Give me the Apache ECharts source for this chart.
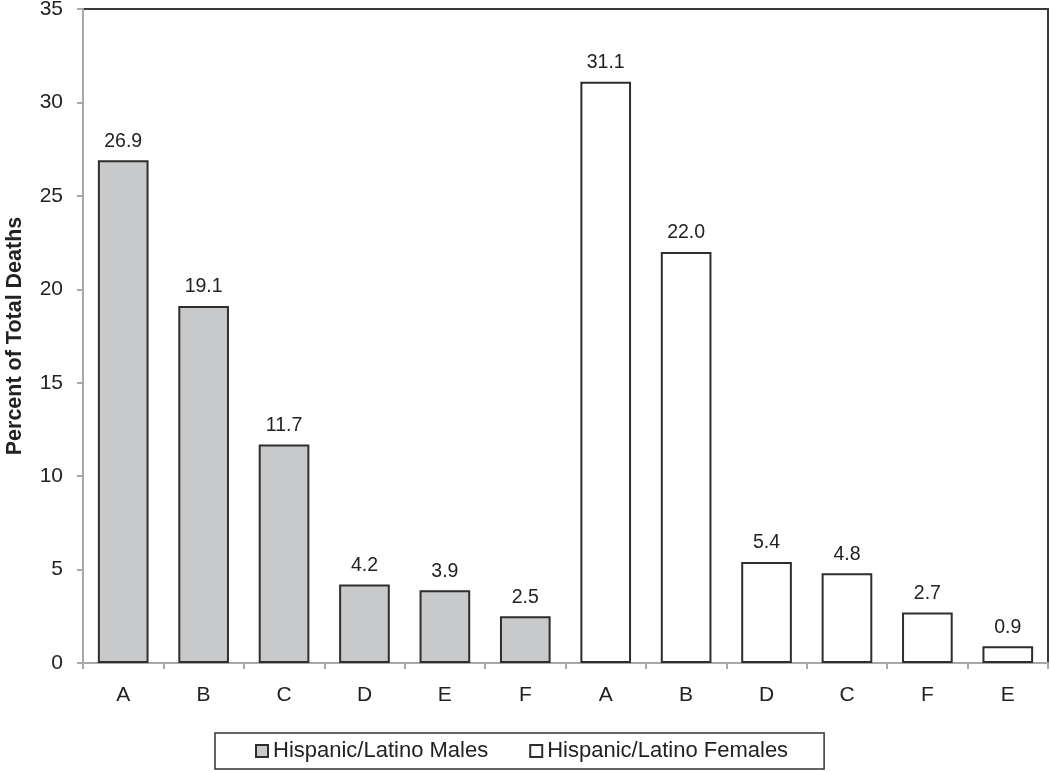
<!DOCTYPE html>
<html>
<head>
<meta charset="utf-8">
<script src="https://cdn.jsdelivr.net/npm/echarts@6/dist/echarts.min.js"></script>
<style>html,body{margin:0;padding:0;background:#fff}#c{width:1050px;height:772px}</style>
</head>
<body>
<div id="c"></div>
<script>
const categories = ['A','B','C','D','E','F','A','B','D','C','F','E'];
const malesValues = [26.9, 19.1, 11.7, 4.2, 3.9, 2.5, null, null, null, null, null, null];
const femalesValues = [null, null, null, null, null, null, 31.1, 22.0, 5.4, 4.8, 2.7, 0.9];
const yTicks = [0, 5, 10, 15, 20, 25, 30, 35];
const seriesNames = ['Hispanic/Latino Males', 'Hispanic/Latino Females'];

const chart = echarts.init(document.getElementById('c'), null, {renderer: 'canvas'});
const font = 'Liberation Sans, Arial, sans-serif';
const labelCfg = {
  show: true, position: 'top', distance: 9,
  fontFamily: font, fontSize: 19.5, color: '#222',
  formatter: p => p.value == null ? '' : Number(p.value).toFixed(1)
};
chart.setOption({
  animation: false,
  grid: {left: 83, right: 2, top: 9, bottom: 109, containLabel: false, outerBoundsMode: 'none',
         show: true, borderColor: '#3a3a3a', borderWidth: 2, backgroundColor: 'transparent'},
  legend: {
    data: seriesNames,
    left: 215, top: 733,
    padding: [7, 36, 7, 40],
    borderColor: '#333', borderWidth: 1.5,
    itemWidth: 12, itemHeight: 12, itemGap: 41,
    textStyle: {fontFamily: font, fontSize: 22, color: '#222'},
    icon: 'rect'
  },
  xAxis: {
    type: 'category', data: categories,
    axisLine: {lineStyle: {color: '#a8a8a8', width: 2}},
    axisTick: {show: true, length: 6, lineStyle: {color: '#a8a8a8', width: 2}},
    axisLabel: {fontFamily: font, fontSize: 21, color: '#222', margin: 22}
  },
  yAxis: {
    type: 'value', min: 0, max: 35, interval: 5,
    name: 'Percent of Total Deaths', nameLocation: 'middle', nameGap: 57, nameMoveOverlap: false,
    nameTextStyle: {fontFamily: font, fontSize: 21.5, fontWeight: 'bold', color: '#222'},
    axisLine: {show: true, lineStyle: {color: '#a8a8a8', width: 2}},
    axisTick: {show: true, length: 6, lineStyle: {color: '#a8a8a8', width: 2}},
    axisLabel: {fontFamily: font, fontSize: 21, color: '#222', margin: 20,
      formatter: v => yTicks.includes(v) ? String(v) : ''},
    splitLine: {show: false}
  },
  series: [
    {name: seriesNames[0], type: 'bar', data: malesValues, barWidth: '63%', barGap: '-100%',
     itemStyle: {color: '#c8c9cb', borderColor: '#2e2e2e', borderWidth: 2}, label: labelCfg},
    {name: seriesNames[1], type: 'bar', data: femalesValues, barWidth: '63%', barGap: '-100%',
     itemStyle: {color: '#ffffff', borderColor: '#2e2e2e', borderWidth: 2}, label: labelCfg}
  ]
});
</script>
</body>
</html>
